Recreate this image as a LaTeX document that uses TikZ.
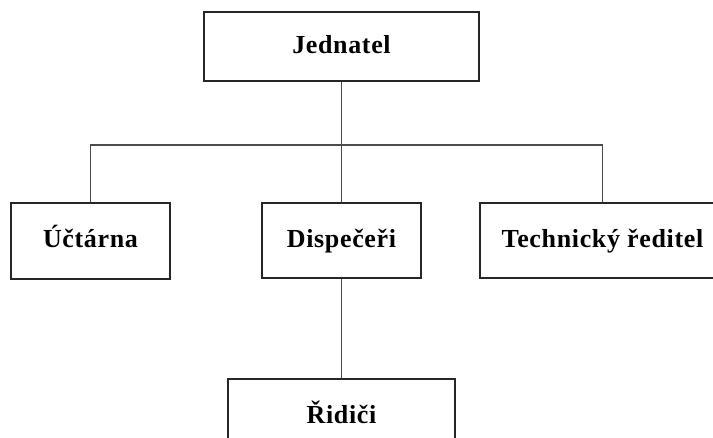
\documentclass[tikz,border=0pt]{standalone}
\usepackage{fontspec}
\setmainfont{Liberation Serif}[LetterSpace=2.5]
\begin{document}
\begin{tikzpicture}[x=1pt,y=-1pt,
  orgbox/.style={draw=black!85,line width=1.5pt,fill=white,inner sep=0pt,
    text height=18pt,text depth=4pt,
    font=\fontsize{26}{31}\selectfont\bfseries,text=black},
  link/.style={draw=black!70,line width=1.6pt}]
\clip (0,0) rectangle (713,438);
\useasboundingbox (0,0) rectangle (713,438);
\node[orgbox,minimum width=275pt,minimum height=69pt] (jed) at (341.5,46.5) {Jednatel};
\node[orgbox,minimum width=159pt,minimum height=76pt] (uct) at (90.5,241) {Účtárna};
\node[orgbox,minimum width=159pt,minimum height=75pt] (dis) at (341.5,240.5) {Dispečeři};
\node[orgbox,minimum width=245pt,minimum height=75pt] (tech) at (602.5,240.5) {Technický ředitel};
\node[orgbox,minimum width=227pt,minimum height=75pt] (rid) at (341.5,416.5) {Řidiči};
\coordinate (bus) at (341.5,145);
\draw[link] (jed.south) -- (dis.north);
\draw[link] (uct.north) |- (bus) -| (tech.north);
\draw[link] (dis.south) -- (rid.north);
\end{tikzpicture}
\end{document}
